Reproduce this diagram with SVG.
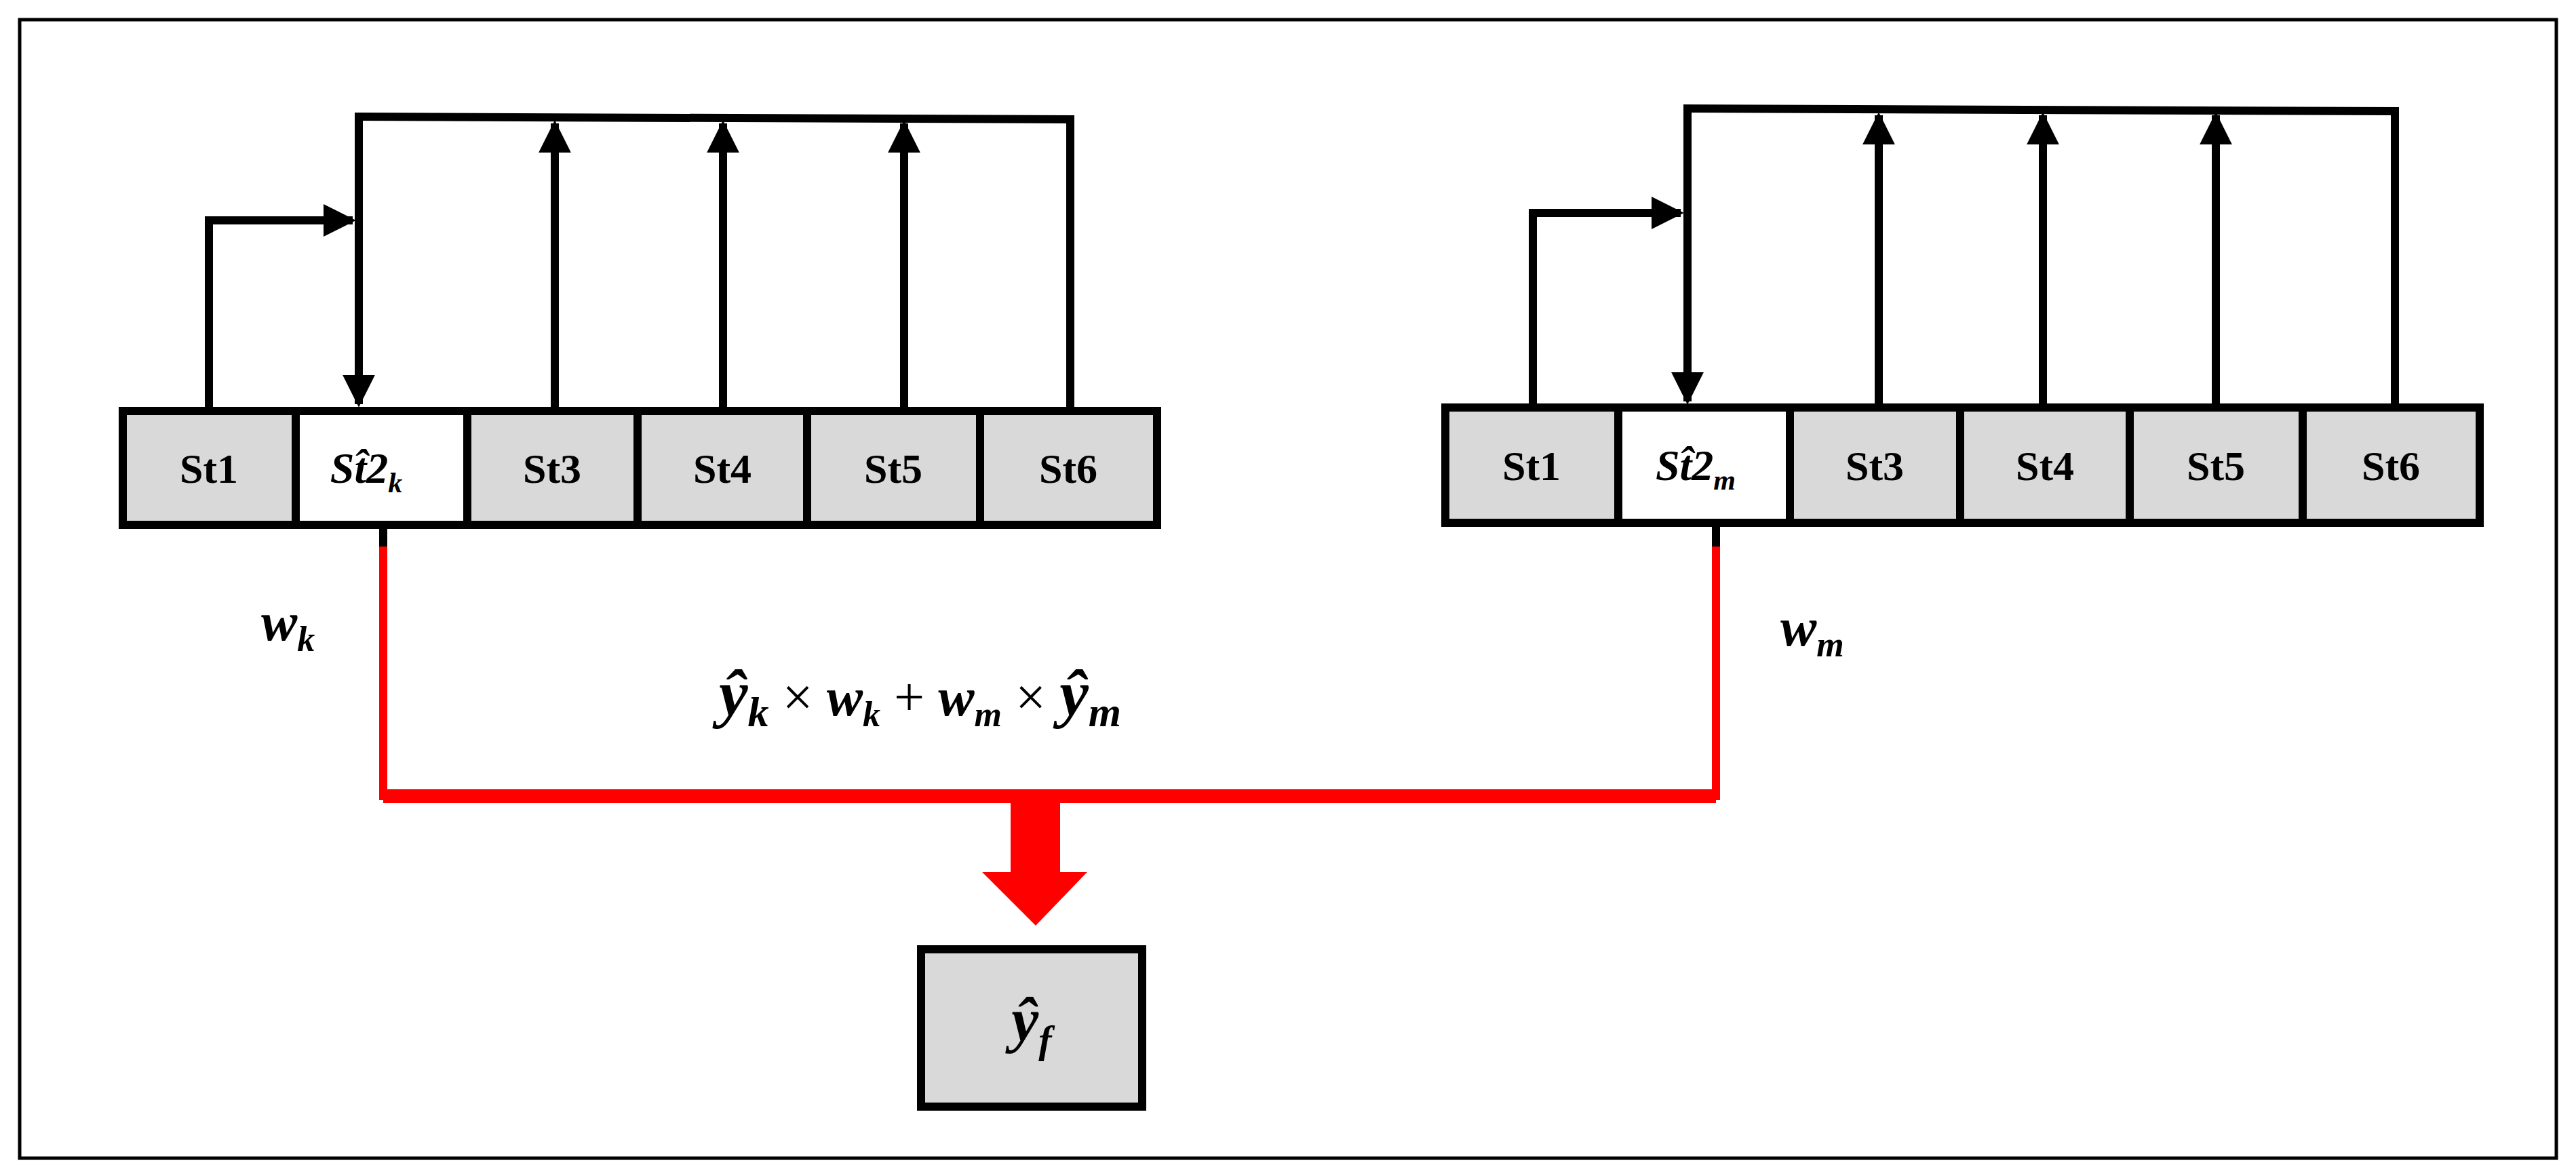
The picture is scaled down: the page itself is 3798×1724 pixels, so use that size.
<svg xmlns="http://www.w3.org/2000/svg" width="3798" height="1724" viewBox="0 0 3798 1724">
<defs>
<style>
.cell{fill:#d9d9d9;stroke:#000;stroke-width:12}
.w{fill:#fff;stroke:#000;stroke-width:12}
.ln{fill:none;stroke:#000;stroke-width:12}
.red{fill:none;stroke:#ff0000;stroke-width:14}
.lb{font-family:"Liberation Serif",serif;font-weight:bold;font-size:62px;text-anchor:middle}
.m{font-family:"Liberation Serif",serif;font-style:italic;font-weight:bold}
</style>
<marker id="ah" viewBox="0 0 10 10" refX="9" refY="5" markerWidth="4" markerHeight="4" markerUnits="strokeWidth" orient="auto"><path d="M0,0 L10,5 L0,10 z" fill="#000"/></marker>
</defs>
<rect x="29" y="29" width="3740" height="1679" fill="#fff" stroke="#000" stroke-width="5"/>
<g id="left-bar">
<rect class="cell" x="181" y="606" width="255" height="168"/>
<rect class="w" x="436" y="606" width="253" height="168"/>
<rect class="cell" x="689" y="606" width="251" height="168"/>
<rect class="cell" x="940" y="606" width="250" height="168"/>
<rect class="cell" x="1190" y="606" width="255" height="168"/>
<rect class="cell" x="1445" y="606" width="261" height="168"/>
<text class="lb" x="308" y="712">St1</text>
<text class="m" x="540" y="712" font-size="64" text-anchor="middle">St̂2<tspan font-size="42" dy="14">k</tspan></text>
<text class="lb" x="814" y="712">St3</text>
<text class="lb" x="1065" y="712">St4</text>
<text class="lb" x="1317" y="712">St5</text>
<text class="lb" x="1575" y="712">St6</text>
</g>
<g id="right-bar">
<rect class="cell" x="2131" y="601" width="255" height="170"/>
<rect class="w" x="2386" y="601" width="253" height="170"/>
<rect class="cell" x="2639" y="601" width="251" height="170"/>
<rect class="cell" x="2890" y="601" width="250" height="170"/>
<rect class="cell" x="3140" y="601" width="255" height="170"/>
<rect class="cell" x="3395" y="601" width="261" height="170"/>
<text class="lb" x="2258" y="708">St1</text>
<text class="m" x="2500" y="708" font-size="64" text-anchor="middle">St̂2<tspan font-size="42" dy="14">m</tspan></text>
<text class="lb" x="2764" y="708">St3</text>
<text class="lb" x="3015" y="708">St4</text>
<text class="lb" x="3267" y="708">St5</text>
<text class="lb" x="3525" y="708">St6</text>
</g>
<g id="result">
<rect class="cell" x="1358" y="1400" width="326" height="232"/>
<text class="m" x="1521" y="1535" font-size="90" text-anchor="middle">ŷ<tspan font-size="58" dy="18">f</tspan></text>
</g>
<g id="labels">
<text class="m" x="385" y="944" font-size="80">w<tspan font-size="52" dy="16">k</tspan></text>
<text class="m" x="2625" y="952" font-size="80">w<tspan font-size="52" dy="16">m</tspan></text>
<text class="m" x="1060" y="1055" font-size="96">ŷ<tspan font-size="62" dy="16">k</tspan><tspan dy="-16" font-size="80" font-style="normal" font-weight="normal">  × </tspan><tspan font-size="80">w</tspan><tspan font-size="52" dy="16">k</tspan><tspan dy="-16" font-size="80" font-style="normal" font-weight="normal"> +  </tspan><tspan font-size="80">w</tspan><tspan font-size="52" dy="16">m</tspan><tspan dy="-16" font-size="80" font-style="normal" font-weight="normal"> ×  </tspan>ŷ<tspan font-size="62" dy="16">m</tspan></text>
</g>
<g id="connectors">
<path class="ln" d="M308,600 V325 H520" marker-end="url(#ah)"/>
<path class="ln" d="M529,170 V596" marker-end="url(#ah)"/>
<path class="ln" d="M523,172 L1578,176 V600"/>
<path class="ln" d="M818,600 V182" marker-end="url(#ah)"/>
<path class="ln" d="M1066,600 V182" marker-end="url(#ah)"/>
<path class="ln" d="M1333,600 V182" marker-end="url(#ah)"/>
<path class="ln" d="M2260,596 V314 H2478" marker-end="url(#ah)"/>
<path class="ln" d="M2488,158 V592" marker-end="url(#ah)"/>
<path class="ln" d="M2482,160 L3531,164 V596"/>
<path class="ln" d="M2770,596 V170" marker-end="url(#ah)"/>
<path class="ln" d="M3012,596 V170" marker-end="url(#ah)"/>
<path class="ln" d="M3267,596 V170" marker-end="url(#ah)"/>
<path class="ln" d="M565,776 V806"/>
<path class="ln" d="M2530,773 V806"/>
<path d="M565,806 V1174 H2530 V806" fill="none" stroke="#ff0000" stroke-width="12"/>
<rect x="565" y="1164" width="1965" height="20" fill="#ff0000"/>
<path d="M1490,1180 H1563 V1286 H1603 L1527,1365 L1448,1286 H1490 z" fill="#ff0000"/>
</g>
</svg>
